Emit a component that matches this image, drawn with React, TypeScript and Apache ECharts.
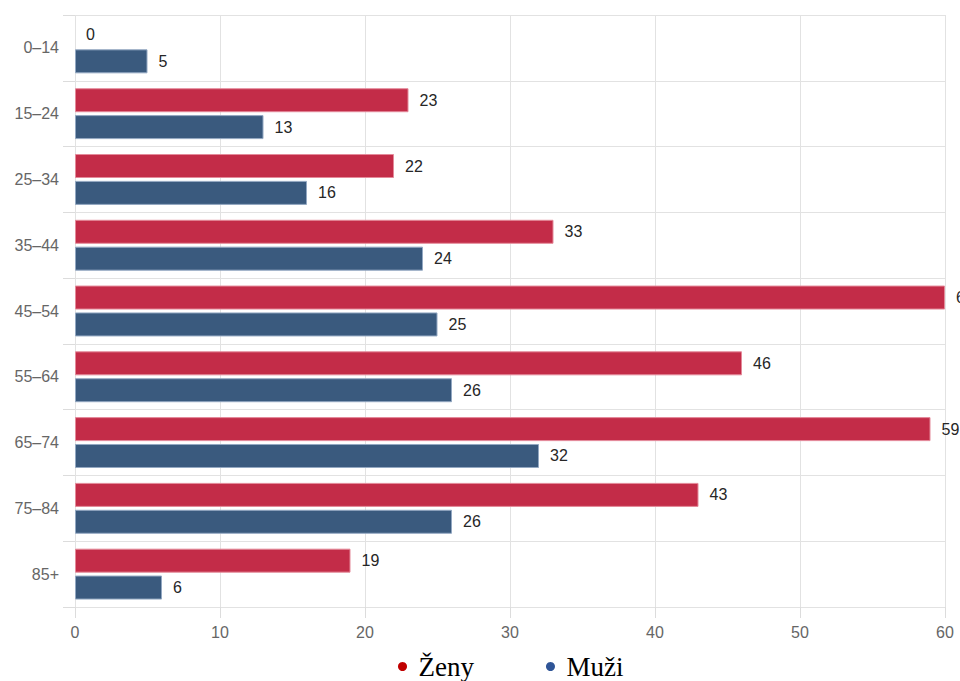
import React, { useEffect, useRef } from "react";
import * as echarts from "echarts";

const categories = ["0–14", "15–24", "25–34", "35–44", "45–54", "55–64", "65–74", "75–84", "85+"];
const zeny = [0, 23, 22, 33, 60, 46, 59, 43, 19];
const muzi = [5, 13, 16, 24, 25, 26, 32, 26, 6];
const seriesNames = ["Ženy", "Muži"];

const toData = (arr: number[]) =>
  arr.map((v) => (v === 0 ? { value: v, itemStyle: { borderWidth: 0 } } : v));

export default function App() {
  const ref = useRef<HTMLDivElement>(null);
  useEffect(() => {
    if (!ref.current) return;
    const chart = echarts.init(ref.current, undefined, { renderer: "svg" });
    const labelStyle = {
      show: true,
      position: "right" as const,
      distance: 11,
      color: "#262626",
      fontSize: 16,
      fontFamily: "Liberation Sans, Arial, sans-serif",
    };
    chart.setOption({
      animation: false,
      grid: { left: 75, right: 15, top: 15, bottom: 74, containLabel: false },
      legend: {
        left: 393,
        top: 648,
        itemGap: 72,
        itemWidth: 22,
        itemHeight: 9,
        icon: "circle",
        itemStyle: { borderWidth: 0 },
        textStyle: {
          fontFamily: "Liberation Serif, Times New Roman, serif",
          fontSize: 27,
          color: "#000",
          padding: [7, 0, 0, 0],
        },
        data: [
          { name: seriesNames[0], itemStyle: { color: "#c00000", borderWidth: 0 } },
          { name: seriesNames[1], itemStyle: { color: "#2f5597", borderWidth: 0 } },
        ],
      },
      xAxis: {
        type: "value",
        min: 0,
        max: 60,
        interval: 10,
        axisLine: { show: false },
        axisTick: { show: true, length: 11, lineStyle: { color: "#dcdcdc" } },
        axisLabel: {
          color: "#666",
          fontSize: 16,
          margin: 17,
          fontFamily: "Liberation Sans, Arial, sans-serif",
        },
        splitLine: { show: true, lineStyle: { color: "#e2e2e2" } },
      },
      yAxis: {
        type: "category",
        data: categories,
        inverse: true,
        axisLine: { show: false },
        axisTick: { show: true, length: 12, lineStyle: { color: "#dcdcdc" } },
        axisLabel: {
          color: "#666",
          fontSize: 16,
          margin: 16,
          fontFamily: "Liberation Sans, Arial, sans-serif",
        },
        splitLine: { show: true, lineStyle: { color: "#e2e2e2" } },
      },
      series: [
        {
          name: seriesNames[0],
          type: "bar",
          data: toData(zeny),
          barWidth: 24,
          barGap: "12%",
          itemStyle: { color: "#c32c48", borderColor: "#e48a9a", borderWidth: 1 },
          label: labelStyle,
        },
        {
          name: seriesNames[1],
          type: "bar",
          data: toData(muzi),
          barWidth: 24,
          barGap: "12%",
          itemStyle: { color: "#3a5a7e", borderColor: "#93a8c2", borderWidth: 1 },
          label: labelStyle,
        },
      ],
    });
    return () => chart.dispose();
  }, []);
  return (
    <div
      ref={ref}
      style={{ position: "fixed", left: 0, top: 0, width: 960, height: 681, background: "#fff" }}
    />
  );
}
